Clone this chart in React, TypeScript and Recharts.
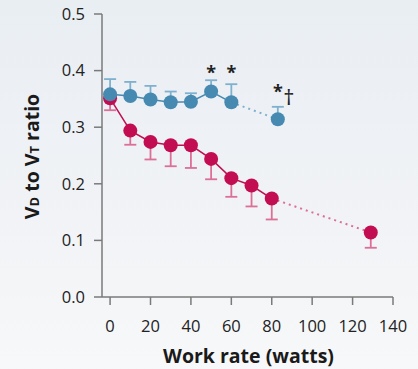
import { ComposedChart, Line, Scatter, XAxis, YAxis, ErrorBar } from "recharts";

// blue series: last point joined by a dotted line
const blueWatts = [0, 10, 20, 30, 40, 50, 60, 83];
const blueRatio = [0.358, 0.355, 0.349, 0.344, 0.345, 0.363, 0.344, 0.314];
const blueErr = [0.027, 0.025, 0.024, 0.019, 0.015, 0.02, 0.032, 0.022];
const blueSolidCount = 7;

// red series
const redWatts = [0, 10, 20, 30, 40, 50, 60, 70, 80, 129];
const redRatio = [0.351, 0.294, 0.274, 0.268, 0.268, 0.244, 0.21, 0.197, 0.174, 0.114];
const redErr = [0.021, 0.025, 0.031, 0.037, 0.04, 0.036, 0.033, 0.037, 0.037, 0.027];
const redSolidCount = 9;

const xTicks = [0, 20, 40, 60, 80, 100, 120, 140];
const yTicks = [0, 0.1, 0.2, 0.3, 0.4, 0.5];

// significance marks
const marks = [
  { x: 50, y: 0.408, t: "*" },
  { x: 60, y: 0.408, t: "*" },
  { x: 83, y: 0.374, t: "*" },
  { x: 88.5, y: 0.355, t: "†" },
];

const BLUE = "#4689b1";
const BLUE_LIGHT = "#7fb1cf";
const RED = "#c30d52";
const RED_LIGHT = "#dc6f95";
const FONT = "'Open Sans', sans-serif";

const bluePts = blueWatts.map((x, i) => ({ x, y: blueRatio[i], err: [0, blueErr[i]] }));
const redPts = redWatts.map((x, i) => ({ x, y: redRatio[i], err: [redErr[i], 0] }));

const YLabel = ({ viewBox }: any) => {
  const cx = 31;
  const cy = viewBox.y + viewBox.height / 2 + 1;
  return (
    <text
      x={cx}
      y={cy}
      transform={`rotate(-90 ${cx} ${cy})`}
      textAnchor="middle"
      dominantBaseline="central"
      fontFamily={FONT}
      fontWeight={700}
      fontSize={19.5}
      fill="#1a1a1a"
    >
      V<tspan fontSize={13} dy={3}>D</tspan>
      <tspan dy={-3}> to V</tspan>
      <tspan fontSize={13} dy={3}>T</tspan>
      <tspan dy={-3}> ratio</tspan>
    </text>
  );
};

const XLabel = ({ viewBox }: any) => (
  <text
    x={viewBox.x + viewBox.width / 2 + 1}
    y={363}
    textAnchor="middle"
    fontFamily={FONT}
    fontWeight={700}
    fontSize={19.5}
    fill="#1a1a1a"
  >
    Work rate (watts)
  </text>
);

const Mark = (props: any) => {
  const { cx, cy, payload } = props;
  const dagger = payload.t === "†";
  return (
    <text
      x={cx}
      y={cy}
      textAnchor="middle"
      dominantBaseline="central"
      dy={dagger ? 0 : 6}
      fontFamily={FONT}
      fontWeight={dagger ? 400 : 700}
      fontSize={dagger ? 22 : 18}
      fill="#222"
    >
      {payload.t}
    </text>
  );
};

export default function App() {
  return (
    <div
      style={{
        position: "absolute",
        left: 0,
        top: 0,
        width: 418,
        height: 369,
        background: "linear-gradient(180deg, #e9eef3 0%, #f1f3f6 60%, #f7f8f9 100%)",
      }}
    >
      <ComposedChart width={418} height={369} margin={{ top: 14, right: 25, bottom: 0, left: 0 }}>
        <XAxis
          type="number"
          dataKey="x"
          domain={[-4, 140]}
          ticks={xTicks}
          allowDataOverflow
          height={72}
          tickSize={8}
          tickMargin={15}
          tick={{ fill: "#222", fontSize: 16.5, fontFamily: FONT }}
          axisLine={{ stroke: "#7a7a7a", strokeWidth: 1.5 }}
          tickLine={{ stroke: "#7a7a7a", strokeWidth: 1.5 }}
          label={<XLabel />}
        />
        <YAxis
          type="number"
          dataKey="y"
          domain={[0, 0.5]}
          ticks={yTicks}
          width={102}
          tickSize={8}
          tickMargin={9}
          tickFormatter={(v: number) => v.toFixed(1)}
          tick={{ fill: "#222", fontSize: 16.5, fontFamily: FONT }}
          axisLine={{ stroke: "#7a7a7a", strokeWidth: 1.5 }}
          tickLine={{ stroke: "#7a7a7a", strokeWidth: 1.5 }}
          label={<YLabel />}
        />

        {/* red */}
        <Line
          data={redPts.slice(redSolidCount - 1)}
          dataKey="y"
          stroke={RED_LIGHT}
          strokeWidth={2}
          strokeDasharray="2 4"
          dot={false}
          isAnimationActive={false}
        />
        <Line
          data={redPts.slice(0, redSolidCount)}
          dataKey="y"
          stroke={RED}
          strokeWidth={1.5}
          dot={false}
          isAnimationActive={false}
        />
        <Line
          data={redPts}
          dataKey="y"
          stroke="none"
          dot={{ r: 7, fill: RED, stroke: "none" }}
          isAnimationActive={false}
        >
          <ErrorBar dataKey="err" width={6} stroke={RED_LIGHT} strokeWidth={1.8} />
        </Line>

        {/* blue */}
        <Line
          data={bluePts.slice(blueSolidCount - 1)}
          dataKey="y"
          stroke={BLUE_LIGHT}
          strokeWidth={2}
          strokeDasharray="2 4"
          dot={false}
          isAnimationActive={false}
        />
        <Line
          data={bluePts.slice(0, blueSolidCount)}
          dataKey="y"
          stroke={BLUE}
          strokeWidth={1.5}
          dot={false}
          isAnimationActive={false}
        />
        <Line
          data={bluePts}
          dataKey="y"
          stroke="none"
          dot={{ r: 7, fill: BLUE, stroke: "none" }}
          isAnimationActive={false}
        >
          <ErrorBar dataKey="err" width={6} stroke={BLUE_LIGHT} strokeWidth={1.8} />
        </Line>

        <Scatter data={marks} dataKey="y" shape={<Mark />} isAnimationActive={false} />
      </ComposedChart>
    </div>
  );
}
